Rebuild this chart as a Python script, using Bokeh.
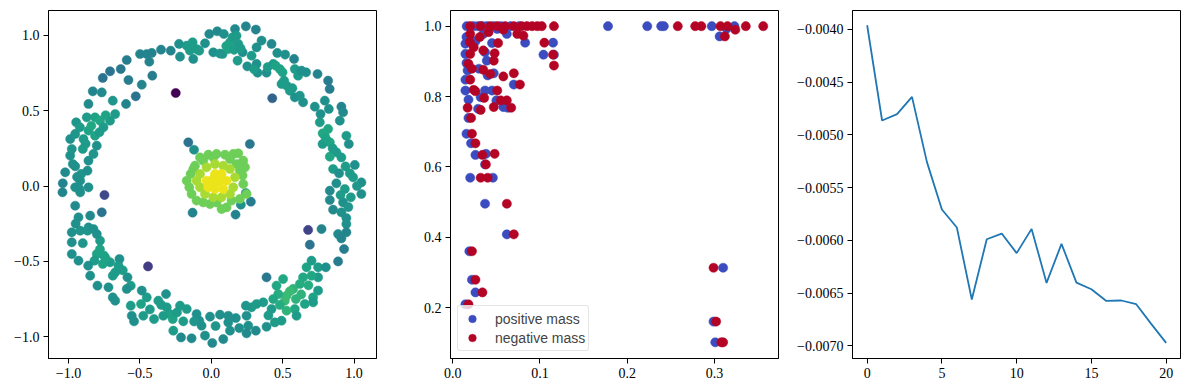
from bokeh.plotting import figure
from bokeh.layouts import row
from bokeh.models import FixedTicker, CustomJSTickFormatter, Range1d, ColumnDataSource
from bokeh.transform import linear_cmap
from bokeh.palettes import Viridis256
from bokeh.embed import file_html
from bokeh.resources import INLINE

# ---------------- Panel 1 data: ring + central blob, coloured by value ----------------
top_x = [-0.352,-0.284,-0.226,-0.219,-0.172,-0.131,-0.126,-0.103,-0.084,-0.044,-0.014,0.014,0.042,0.079,0.088,0.119,0.131,0.149,0.166,0.177,0.184,0.189,0.219,0.242,0.252,0.282,0.312,0.317,0.317,0.324,0.352,0.387,0.422,0.434,0.462,0.480,0.499,0.517,
         -0.150,0.060,0.105,0.160,0.205,0.300,0.395,0.450]
top_y = [0.906,0.899,0.944,0.859,0.932,0.955,0.844,0.910,0.899,0.948,1.010,0.888,1.028,0.877,1.010,0.910,0.955,0.988,1.043,0.999,0.833,0.944,0.888,1.061,0.795,0.866,1.039,0.921,0.811,0.753,0.966,0.753,0.944,0.811,0.884,0.777,0.755,0.873,
         0.900,0.880,0.930,0.905,0.915,0.775,0.790,0.800]
top_c = [0.45,0.45,0.5,0.5,0.55,0.55,0.5,0.55,0.55,0.5,0.48,0.5,0.48,0.55,0.5,0.58,0.58,0.55,0.48,0.55,0.55,0.55,0.5,0.45,0.5,0.55,0.45,0.5,0.5,0.5,0.5,0.5,0.48,0.55,0.5,0.58,0.58,0.5,
         0.55,0.52,0.58,0.56,0.55,0.55,0.55,0.58]

right_x = [0.492,0.527,0.550,0.580,0.585,0.585,0.608,0.632,0.643,0.664,0.744,0.818,0.829,0.725,0.795,0.823,0.765,0.760,0.911,0.923,0.900,0.818,0.795,0.946,0.963,0.830,0.779,0.876,0.830,0.911,1.005,0.853,0.970,0.895,0.993,1.051,0.876,0.935,1.051,0.830,0.977,0.830,0.923,0.853,0.911,0.946,0.946,0.946,0.888,0.911,0.772,0.930,0.888,
           0.510,0.568,0.620,0.780,0.805,0.850,0.940,1.020,0.960,0.905]
right_y = [0.678,0.667,0.633,0.844,0.777,0.589,0.733,0.766,0.556,0.755,0.744,0.700,0.645,0.527,0.567,0.512,0.478,0.423,0.527,0.490,0.434,0.379,0.334,0.334,0.279,0.290,0.279,0.224,0.195,0.190,0.140,0.113,0.084,0.084,0.058,0.024,0.018,-0.020,-0.053,-0.031,-0.075,-0.093,-0.109,-0.157,-0.175,-0.213,-0.252,-0.308,-0.319,-0.348,-0.286,-0.419,-0.501,
           0.700,0.650,0.600,0.350,0.310,0.250,0.130,0.000,-0.140,-0.060]
right_c = [0.55,0.55,0.55,0.45,0.55,0.5,0.55,0.5,0.5,0.5,0.45,0.42,0.42,0.5,0.5,0.5,0.5,0.55,0.45,0.48,0.5,0.6,0.6,0.55,0.5,0.6,0.55,0.55,0.6,0.55,0.5,0.55,0.55,0.5,0.55,0.5,0.5,0.55,0.5,0.48,0.55,0.48,0.5,0.48,0.5,0.5,0.5,0.45,0.48,0.45,0.45,0.42,0.42,
           0.55,0.55,0.52,0.6,0.58,0.55,0.55,0.52,0.52,0.55]

bottom_x = [0.702,0.667,0.748,0.802,0.748,0.702,0.643,0.748,0.713,0.713,0.655,0.592,0.620,0.573,0.503,0.457,0.527,0.515,0.469,0.434,0.422,0.585,0.597,0.527,0.492,0.445,0.387,0.364,0.317,0.282,0.247,0.242,0.259,0.312,0.247,0.196,0.172,0.119,0.131,0.084,0.119,0.061,0.007,-0.009,-0.044,-0.068,-0.084,-0.103,-0.138,-0.172,-0.219,-0.212,-0.196,-0.266,-0.270,-0.289,-0.317,-0.312,-0.336,-0.371,-0.401,-0.452,-0.476,-0.492,-0.487,-0.541,-0.557,-0.564,-0.564,-0.587,-0.592,
            0.550,0.630,0.680,0.480,0.400,0.030,-0.120,-0.240,-0.350,-0.430]
bottom_y = [-0.496,-0.540,-0.540,-0.540,-0.607,-0.596,-0.607,-0.695,-0.740,-0.773,-0.784,-0.751,-0.651,-0.684,-0.618,-0.662,-0.729,-0.762,-0.718,-0.751,-0.817,-0.817,-0.862,-0.828,-0.895,-0.906,-0.935,-0.773,-0.784,-0.806,-0.862,-0.795,-0.928,-0.961,-0.979,-0.944,-0.877,-0.862,-0.961,-1.017,-0.906,-0.855,-1.043,-0.868,-0.994,-0.928,-0.895,-0.851,-1.012,-0.817,-0.795,-1.006,-0.899,-0.961,-0.884,-0.851,-0.718,-0.806,-0.862,-0.762,-0.884,-0.740,-0.862,-0.784,-0.695,-0.899,-0.862,-0.795,-0.662,-0.607,-0.684,
            -0.700,-0.720,-0.660,-0.790,-0.860,-0.930,-0.900,-0.840,-0.790,-0.820]
bottom_c = [0.55,0.58,0.55,0.5,0.55,0.6,0.6,0.55,0.58,0.55,0.58,0.65,0.62,0.65,0.6,0.6,0.68,0.68,0.62,0.6,0.55,0.6,0.55,0.65,0.55,0.55,0.5,0.55,0.55,0.55,0.5,0.52,0.5,0.48,0.48,0.5,0.5,0.5,0.5,0.48,0.5,0.5,0.48,0.5,0.5,0.5,0.5,0.5,0.48,0.55,0.55,0.48,0.55,0.55,0.58,0.58,0.5,0.55,0.55,0.55,0.55,0.55,0.55,0.58,0.5,0.5,0.5,0.55,0.55,0.5,0.5,
            0.68,0.65,0.62,0.62,0.55,0.52,0.52,0.55,0.55,0.55]

lowleft_x = [-0.643,-0.650,-0.673,-0.690,-0.673,-0.690,-0.720,-0.709,-0.760,-0.779,-0.751,-0.802,-0.818,-0.802,-0.848,-0.848,-0.797,-0.862,-0.860,-0.930,-0.977,-0.977,-0.977,-0.918,-0.867,-0.825,-0.930,-0.953,
             -0.780,-0.740,-0.900,-0.950,-0.620]
lowleft_y = [-0.485,-0.529,-0.574,-0.596,-0.762,-0.740,-0.673,-0.507,-0.518,-0.363,-0.463,-0.452,-0.496,-0.319,-0.197,-0.596,-0.662,-0.529,-0.275,-0.496,-0.452,-0.374,-0.308,-0.297,-0.297,-0.286,-0.208,-0.131,
             -0.420,-0.480,-0.380,-0.250,-0.560]
lowleft_c = [0.5,0.55,0.55,0.55,0.5,0.5,0.5,0.55,0.58,0.55,0.58,0.58,0.55,0.5,0.48,0.5,0.5,0.5,0.5,0.5,0.5,0.5,0.5,0.52,0.52,0.5,0.5,0.48,
             0.58,0.58,0.52,0.5,0.55]

left_x = [-0.918,-0.923,-0.860,-0.953,-1.040,-1.042,-0.918,-0.911,-0.953,-1.023,-0.970,-0.988,-0.977,-0.988,-0.953,-0.895,-0.900,-0.860,-0.867,-0.825,-0.802,-0.814,-0.860,-0.946,-0.872,-0.860,-0.830,-0.767,-0.814,-0.779,-0.755,-0.709,-0.673,-0.690,-0.597,-0.783,
          -0.940,-0.880,-0.840,-0.920,-0.740]
left_y = [-0.042,-0.020,-0.009,-0.009,0.018,-0.042,0.035,0.080,0.131,0.091,0.146,0.202,0.246,0.312,0.346,0.312,0.246,0.168,0.102,0.213,0.268,0.334,0.368,0.423,0.456,0.545,0.629,0.622,0.456,0.434,0.390,0.434,0.478,0.567,0.545,0.357,
          0.060,0.280,0.400,0.390,0.470]
left_c = [0.5,0.5,0.5,0.5,0.45,0.45,0.5,0.52,0.5,0.48,0.5,0.5,0.52,0.5,0.52,0.55,0.55,0.5,0.5,0.52,0.5,0.58,0.58,0.52,0.55,0.48,0.45,0.48,0.58,0.6,0.55,0.55,0.55,0.52,0.45,0.55,
          0.5,0.55,0.6,0.55,0.58]

upleft_x = [-0.529,-0.487,-0.580,-0.634,-0.760,-0.709,-0.592,-0.499,-0.452,-0.434,-0.413,-0.417]
upleft_y = [0.596,0.673,0.704,0.777,0.718,0.762,0.837,0.877,0.877,0.826,0.733,0.884]
upleft_c = [0.38,0.45,0.42,0.4,0.38,0.38,0.42,0.45,0.45,0.45,0.42,0.45]

outlier_x = [-0.249,0.427,-0.748,-0.767,-0.443,0.678,0.690,0.387,-0.161,0.270,-0.121,0.242,0.277,0.207,0.170,-0.131]
outlier_y = [0.618,0.583,-0.060,-0.175,-0.534,-0.292,-0.390,-0.607,0.290,0.279,0.241,-0.047,-0.104,-0.124,-0.190,-0.177]
outlier_c = [0.0,0.32,0.22,0.38,0.18,0.2,0.38,0.4,0.38,0.4,0.5,0.5,0.42,0.5,0.45,0.45]

blob_x = [-0.172,-0.145,-0.114,-0.079,-0.021,0.037,0.096,0.154,0.189,0.224,0.236,0.219,0.224,0.247,0.200,0.142,0.107,0.072,0.037,-0.009,-0.056,-0.103,-0.138,-0.154,-0.126,-0.056,0.014,0.131,0.177,0.200,
          -0.079,-0.033,0.026,0.084,0.131,0.166,0.154,0.131,0.072,0.014,-0.044,-0.079,-0.103,
          -0.033,0.026,0.072,0.107,0.084,0.026,-0.021,0.037,0.014,0.061,0.049,0.002]
blob_y = [0.035,0.080,0.135,0.190,0.208,0.213,0.208,0.213,0.217,0.168,0.124,0.069,0.013,-0.053,-0.086,-0.097,-0.142,-0.153,-0.109,-0.120,-0.109,-0.097,-0.053,-0.009,0.113,0.168,0.190,0.179,0.146,0.102,
          0.080,0.124,0.146,0.135,0.113,0.058,-0.009,-0.053,-0.075,-0.075,-0.053,-0.009,0.035,
          0.035,0.080,0.080,0.035,-0.020,-0.020,-0.009,0.024,0.047,0.035,0.058,0.013]
blob_c = [0.78]*30 + [0.87]*13 + [0.97]*12

# ---------------- Panel 2 data ----------------
pos_x = [0.016,0.024,0.029,0.034,0.039,0.047,0.055,0.066,0.076,0.178,0.223,0.239,0.242,0.297,0.323,0.306,0.314,
         0.0157,0.0145,0.025,0.0145,0.0157,0.017,0.0145,0.0145,0.018,0.018,0.0157,0.021,0.026,0.020,0.019,0.022,0.026,0.0145,
         0.037,0.062,0.038,0.037,0.046,0.032,0.037,0.045,0.050,0.058,0.063,0.029,0.030,0.040,0.047,0.070,0.037,0.039,0.045,0.026,
         0.083,0.062,0.104,0.115,0.116,0.035,0.051,0.310,0.299,0.301]
pos_y = [1.0,1.0,1.0,1.0,1.0,1.0,1.0,1.0,1.0,1.0,1.0,1.0,1.0,1.0,1.0,0.971,0.993,
         0.969,0.950,0.957,0.921,0.895,0.874,0.848,0.817,0.791,0.739,0.694,0.667,0.634,0.569,0.360,0.279,0.243,0.209,
         0.495,0.408,0.637,0.607,0.569,0.798,0.817,0.817,0.789,0.770,0.768,0.765,0.879,0.860,0.866,0.834,0.926,0.902,0.952,0.957,
         0.953,0.978,0.919,0.953,0.919,0.978,0.992,0.313,0.160,0.101]
neg_x = [0.020,0.032,0.043,0.051,0.060,0.070,0.079,0.085,0.091,0.097,0.102,0.116,0.258,0.278,0.285,0.307,0.315,0.336,0.356,0.312,0.324,
         0.020,0.0195,0.024,0.020,0.018,0.022,0.020,0.024,0.017,0.021,0.022,0.026,0.034,0.032,0.022,0.026,0.034,0.018,
         0.062,0.070,0.048,0.038,0.040,0.036,0.026,0.051,0.055,0.047,0.062,0.067,0.032,0.035,0.043,0.058,0.077,0.070,
         0.035,0.047,0.048,0.052,0.031,0.081,0.074,0.105,0.115,0.116,0.041,0.058,0.299,0.302,0.308,0.310]
neg_y = [1.0,1.0,1.0,1.0,1.0,1.0,1.0,1.0,1.0,1.0,1.0,1.0,1.0,1.0,1.0,1.0,1.0,1.0,1.0,0.971,0.990,
         0.978,0.955,0.940,0.921,0.893,0.879,0.848,0.819,0.768,0.739,0.694,0.667,0.634,0.569,0.360,0.279,0.243,0.209,
         0.495,0.408,0.637,0.607,0.569,0.796,0.815,0.817,0.789,0.770,0.789,0.768,0.762,0.876,0.864,0.857,0.834,0.866,
         0.931,0.902,0.923,0.952,0.969,0.973,0.978,0.953,0.919,0.888,0.983,0.990,0.313,0.160,0.101,0.101]

# ---------------- Panel 3 data ----------------
step = list(range(21))
loss = [-0.00396,-0.004863,-0.004803,-0.004639,-0.005258,-0.005707,-0.005878,-0.006561,-0.005989,-0.005935,-0.006121,
        -0.005891,-0.006403,-0.006033,-0.006400,-0.006463,-0.006574,-0.006570,-0.006605,-0.006792,-0.006972]

SERIF = "Liberation Serif"
TICK_PX = "14px"


def fmt(decimals):
    return CustomJSTickFormatter(code="return (tick < -1e-12 ? '\u2212' : '') + Math.abs(tick).toFixed(%d);" % decimals)


def make_fig(xr, yr, left, right=10):
    p = figure(frame_width=328, frame_height=348, x_range=Range1d(*xr), y_range=Range1d(*yr),
               output_backend="svg", toolbar_location=None, min_border_left=left,
               min_border_right=right, min_border_top=10, min_border_bottom=30,
               background_fill_color="white", border_fill_color="white")
    p.xgrid.visible = False
    p.ygrid.visible = False
    p.outline_line_color = "black"
    p.outline_line_alpha = 1.0
    p.outline_line_width = 1
    for ax in (p.xaxis[0], p.yaxis[0]):
        ax.major_tick_in = 0
        ax.major_tick_out = 5
        ax.minor_tick_line_color = None
        ax.axis_line_color = "black"
        ax.major_tick_line_color = "black"
        ax.major_label_text_font = SERIF
        ax.major_label_text_font_size = TICK_PX
        ax.major_label_text_color = "black"
        ax.major_label_standoff = 4
    return p


# Panel 1
p1 = make_fig((-1.14, 1.157), (-1.146, 1.166), 48)
p1.xaxis.ticker = FixedTicker(ticks=[-1.0, -0.5, 0.0, 0.5, 1.0])
p1.yaxis.ticker = FixedTicker(ticks=[-1.0, -0.5, 0.0, 0.5, 1.0])
p1.xaxis.formatter = fmt(1)
p1.yaxis.formatter = fmt(1)
cmap = linear_cmap("c", Viridis256, 0.0, 1.0)
for xs, ys, cs in [(top_x, top_y, top_c), (right_x, right_y, right_c), (bottom_x, bottom_y, bottom_c),
                   (lowleft_x, lowleft_y, lowleft_c), (left_x, left_y, left_c), (upleft_x, upleft_y, upleft_c),
                   (outlier_x, outlier_y, outlier_c), (blob_x, blob_y, blob_c)]:
    src = ColumnDataSource(dict(x=xs, y=ys, c=cs))
    p1.scatter("x", "y", source=src, size=9.2, fill_color=cmap, line_color=cmap, line_width=0.5)

# Panel 2
p2 = make_fig((-0.0026, 0.3735), (0.055, 1.0446), 64)
p2.xaxis.ticker = FixedTicker(ticks=[0.0, 0.1, 0.2, 0.3])
p2.yaxis.ticker = FixedTicker(ticks=[0.2, 0.4, 0.6, 0.8, 1.0])
p2.xaxis.formatter = fmt(1)
p2.yaxis.formatter = fmt(1)
p2.scatter(pos_x, pos_y, size=9.2, fill_color="#3b4cc0", line_color="#3b4cc0", line_width=0.5,
           legend_label="positive mass")
p2.scatter(neg_x, neg_y, size=9.2, fill_color="#b40426", line_color="#b40426", line_width=0.5,
           legend_label="negative mass")
lg = p2.legend[0]
lg.location = "bottom_left"
lg.margin = 7
lg.padding = 3
lg.spacing = 0
lg.label_text_font = "Liberation Sans"
lg.label_text_font_size = "14px"
lg.label_standoff = 12
lg.glyph_width = 22
lg.glyph_height = 19
lg.label_height = 19
lg.border_line_color = "#cccccc"
lg.border_line_width = 1
lg.border_radius = 3
lg.background_fill_alpha = 0.8

# Panel 3
p3 = make_fig((-0.98, 20.96), (-0.00712, -0.00382), 64, right=1)
p3.xaxis.ticker = FixedTicker(ticks=[0, 5, 10, 15, 20])
p3.yaxis.ticker = FixedTicker(ticks=[-0.0070, -0.0065, -0.0060, -0.0055, -0.0050, -0.0045, -0.0040])
p3.xaxis.formatter = fmt(0)
p3.yaxis.formatter = fmt(4)
p3.line(step, loss, line_color="#1f77b4", line_width=1.8)

layout = row(p1, p2, p3, spacing=0)
open("out.html", "w").write(file_html(layout, INLINE))
